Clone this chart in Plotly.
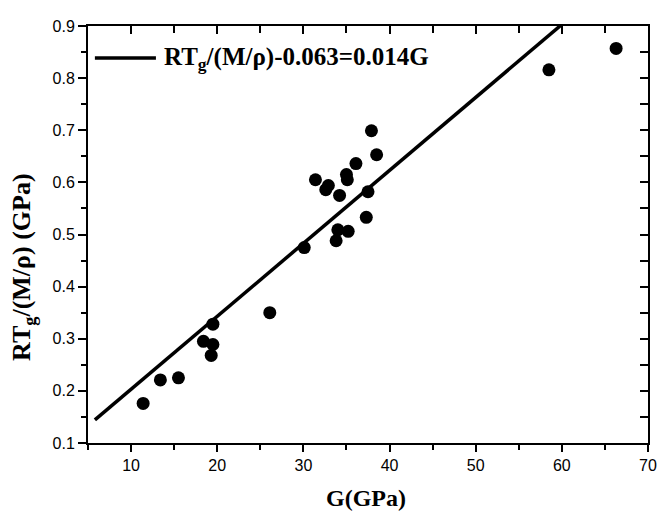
import plotly.graph_objects as go

# ---- data ----
G_GPa = [11.4, 13.4, 15.5, 18.4, 19.5, 19.5, 19.3, 26.1, 30.1, 31.4,
         32.9, 32.6, 33.8, 34.0, 34.2, 35.0, 35.1, 35.2, 36.1, 37.3,
         37.5, 37.9, 38.5, 58.5, 66.3]
RTg_Mrho = [0.176, 0.221, 0.225, 0.295, 0.328, 0.289, 0.268, 0.350, 0.475, 0.605,
            0.594, 0.586, 0.488, 0.509, 0.575, 0.615, 0.605, 0.506, 0.636, 0.533,
            0.582, 0.699, 0.653, 0.816, 0.857]

FIT_INTERCEPT = 0.063
FIT_SLOPE = 0.014
FIT_X = [5.8, 60.6]
FIT_Y = [FIT_INTERCEPT + FIT_SLOPE * x for x in FIT_X]

X_RANGE = [5, 70]
Y_RANGE = [0.1, 0.9]
X_TICKS = [10, 20, 30, 40, 50, 60, 70]
Y_TICKS = [0.1, 0.2, 0.3, 0.4, 0.5, 0.6, 0.7, 0.8, 0.9]

LEGEND_TEXT = "RT<sub>g</sub>/(M/ρ)-0.063=0.014G"
X_TITLE = "G(GPa)"
Y_TITLE = "RT<sub>g</sub>/(M/ρ) (GPa)"

serif = "Liberation Serif"
sans = "Liberation Sans"

fig = go.Figure()
fig.add_trace(go.Scatter(x=FIT_X, y=FIT_Y, mode="lines",
                         line=dict(color="black", width=3.5),
                         showlegend=False, hoverinfo="skip"))
fig.add_trace(go.Scatter(x=G_GPa, y=RTg_Mrho, mode="markers",
                         marker=dict(color="black", size=13, line=dict(width=0)),
                         showlegend=False))
# carrier trace so the mirrored (top/right) axes are drawn
fig.add_trace(go.Scatter(x=[None], y=[None], xaxis="x2", yaxis="y2",
                         mode="markers", showlegend=False, hoverinfo="skip"))

axis_common = dict(showgrid=False, zeroline=False, showline=True,
                   linecolor="black", linewidth=2)

fig.update_layout(
    width=659, height=504,
    margin=dict(l=80, r=10, t=14, b=69),
    paper_bgcolor="white", plot_bgcolor="white",
    showlegend=False,
    xaxis=dict(range=X_RANGE, tickvals=X_TICKS, ticks="outside", ticklen=7,
               tickwidth=1.5, tickcolor="black",
               tickfont=dict(family=sans, size=16, color="black"),
               minor=dict(dtick=5, tick0=0, ticks="outside", ticklen=5,
                          tickwidth=1.5, tickcolor="black"),
               **axis_common),
    yaxis=dict(range=Y_RANGE, tickvals=Y_TICKS, tickformat=".1f",
               ticks="outside", ticklen=8, tickwidth=1.5, tickcolor="black",
               tickfont=dict(family=sans, size=16, color="black"),
               minor=dict(dtick=0.05, tick0=0, ticks="outside", ticklen=5,
                          tickwidth=1.5, tickcolor="black"),
               **axis_common),
    xaxis2=dict(range=X_RANGE, overlaying="x", side="top", anchor="y2",
                tickvals=X_TICKS, ticks="inside", ticklen=8, tickwidth=1.5,
                tickcolor="black", showticklabels=False,
                minor=dict(dtick=5, tick0=0, ticks="inside", ticklen=7,
                           tickwidth=1.5, tickcolor="black"),
                **axis_common),
    yaxis2=dict(range=Y_RANGE, overlaying="y", side="right", anchor="x2",
                tickvals=Y_TICKS, ticks="inside", ticklen=8, tickwidth=1.5,
                tickcolor="black", showticklabels=False,
                minor=dict(dtick=0.05, tick0=0, ticks="inside", ticklen=8,
                           tickwidth=1.5, tickcolor="black"),
                **axis_common),
)

# legend (manual, to match the long line sample)
fig.add_shape(type="line", xref="paper", yref="paper",
              x0=0.0123, x1=0.1213, y0=0.923, y1=0.923,
              line=dict(color="black", width=3.5))
fig.add_annotation(xref="paper", yref="paper", x=0.1318, y=0.923,
                   xanchor="left", yanchor="middle", showarrow=False,
                   text="<b>" + LEGEND_TEXT + "</b>",
                   font=dict(family=serif, size=25, color="black"))

# axis titles
fig.add_annotation(xref="paper", yref="paper", x=0.496, y=-0.131,
                   xanchor="center", yanchor="middle", showarrow=False,
                   text="<b>" + X_TITLE + "</b>",
                   font=dict(family=serif, size=24, color="black"))
fig.add_annotation(xref="paper", yref="paper", x=-0.116, y=0.42,
                   xanchor="center", yanchor="middle", showarrow=False,
                   textangle=-90,
                   text="<b>" + Y_TITLE + "</b>",
                   font=dict(family=serif, size=26, color="black"))

fig.write_html("out.html")
